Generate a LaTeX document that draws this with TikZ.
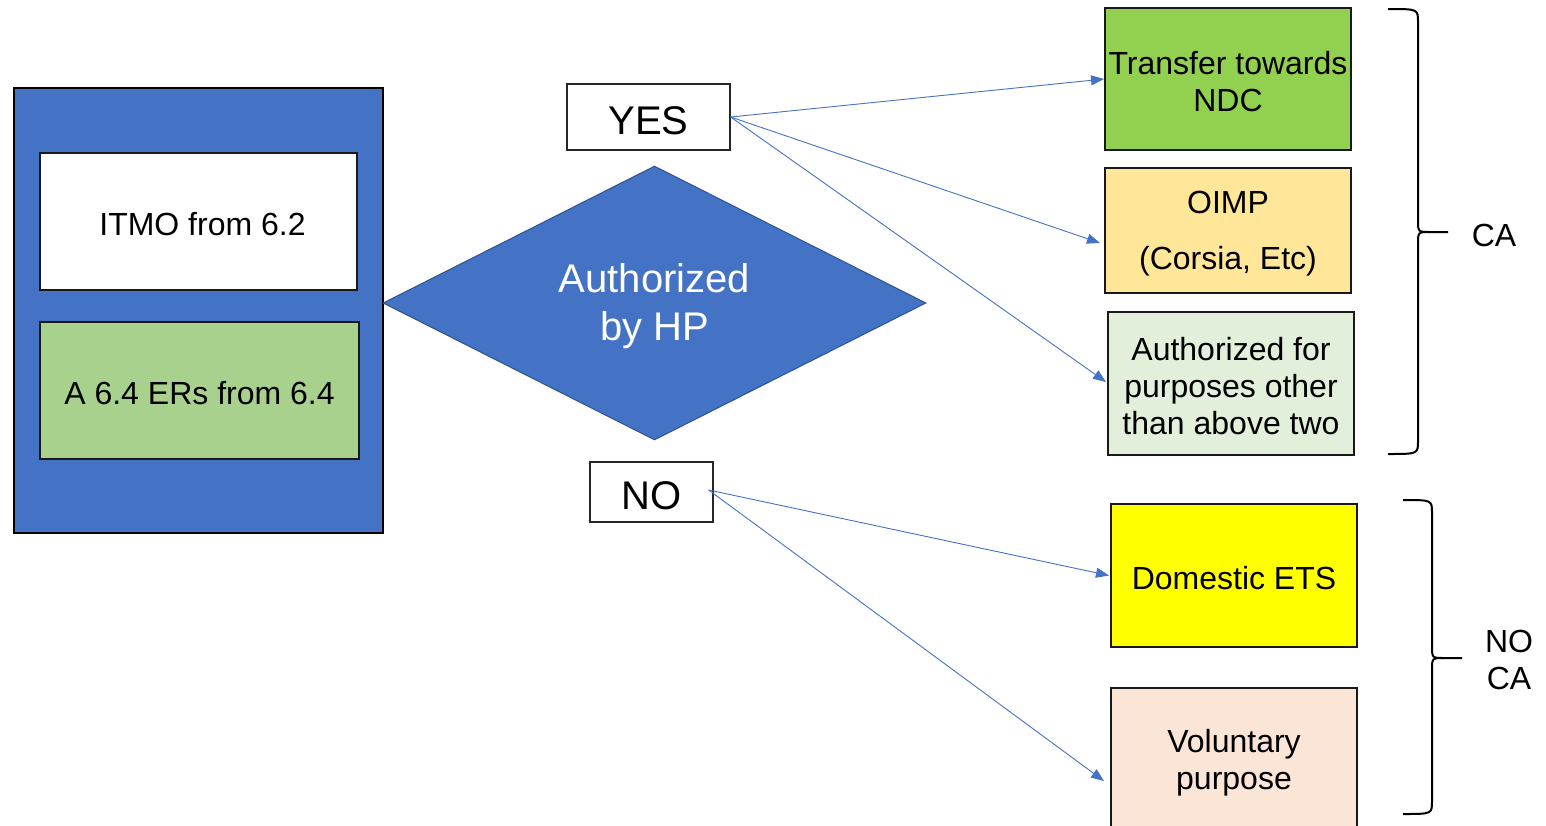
\documentclass[tikz,border=0pt]{standalone}
\usepackage{fontspec}
\setmainfont{Liberation Sans}
\usetikzlibrary{shapes.geometric,arrows.meta}
\definecolor{mblue}{HTML}{4472C4}
\definecolor{dblue}{HTML}{2F528F}
\definecolor{cgreen}{HTML}{92D050}
\definecolor{cyell}{HTML}{FFE699}
\definecolor{clgreen}{HTML}{E2EFDA}
\definecolor{cdom}{HTML}{FFFF00}
\definecolor{cvol}{HTML}{FBE5D6}
\definecolor{cer}{HTML}{A9D18E}
\tikzset{
  txt/.style={font=\fontsize{32}{37}\selectfont, text=black, align=center},
  boxt/.style={label={[txt,yshift=-3pt]center:#1}},
  box/.style={draw=black!90, line width=2pt, rectangle, inner sep=0pt,
              minimum width=246pt},
  lbl/.style={draw=black!85, line width=1.3pt, fill=white, inner sep=0pt},
  lblt/.style={label={[text=black,font=\fontsize{40}{46}\selectfont,yshift=-3.5pt]center:#1}},
  conn/.style={draw=mblue, line width=0.9pt, -{Triangle[length=13pt,width=10pt]}},
  brace/.style={draw=black, line width=2pt, line join=round}
}
\begin{document}
\begin{tikzpicture}[x=1pt,y=-1pt]
\useasboundingbox (0,0) rectangle (1546,825);
\fill[white] (0,0) rectangle (1546,825);
% left group
\node[draw=black, line width=2pt, fill=mblue, minimum width=369pt, minimum height=445pt, inner sep=0pt] (outer) at (198.5,310.5) {};
\node[box, fill=white, minimum width=317pt, minimum height=137pt, boxt={\hspace{8pt}ITMO from 6.2}] (itmo) at (198.5,221.5) {};
\node[box, fill=cer, minimum width=319pt, minimum height=137pt, boxt={A 6.4 ERs from 6.4}] (er) at (199.5,390.5) {};
% diamond
\node[diamond, fill=mblue, draw=dblue, line width=1pt, minimum width=543pt, minimum height=274pt, aspect=2, inner sep=0pt,
  label={[text=white, align=center, font=\fontsize{40}{48}\selectfont, yshift=-3.5pt]center:{Authorized\\by HP}}] (dec) at (654.5,303) {};
% yes / no
\node[lbl, minimum width=163pt, minimum height=66pt, lblt={YES}] (yes) at (648.5,117) {};
\node[lbl, minimum width=123pt, minimum height=60pt, lblt={NO}] (no) at (651.5,492) {};
% right boxes
\node[box, fill=cgreen, minimum height=142pt, boxt={{Transfer towards\\NDC}}] (tr) at (1228,79) {};
\node[box, fill=cyell, minimum height=125pt, boxt={{OIMP\\[19pt](Corsia, Etc)}}] (oimp) at (1228,230.5) {};
\node[box, fill=clgreen, minimum height=143pt, boxt={{Authorized for\\purposes other\\than above two}}] (auth) at (1231,383.5) {};
\node[box, fill=cdom, minimum height=143pt, boxt={Domestic ETS}] (dom) at (1234,575.5) {};
\node[box, fill=cvol, minimum height=143pt, boxt={{Voluntary\\purpose}}] (vol) at (1234,759.5) {};
% connectors
\draw[conn] (yes.east) -- (tr.west);
\draw[conn] (yes.east) -- ([xshift=-4pt,yshift=-12.5pt]oimp.west);
\draw[conn] (yes.east) -- ([xshift=-1pt,yshift=1.5pt]auth.west);
\draw[conn] ([xshift=-5pt,yshift=2pt]no.east) -- ([xshift=-1pt]dom.west);
\draw[conn] ([xshift=-5pt,yshift=2pt]no.east) -- ([xshift=-6pt,yshift=-21.5pt]vol.west);
% braces
\draw[brace] (1388,9) .. controls (1418,9) and (1418,9) .. (1418,22) -- (1418,220)
  .. controls (1418,232) and (1418,232) .. (1430,232) -- (1448,232);
\draw[brace] (1430,232) .. controls (1418,232) and (1418,232) .. (1418,244) -- (1418,441)
  .. controls (1418,454) and (1418,454) .. (1388,454);
\draw[brace] (1403,500) .. controls (1432,500) and (1432,500) .. (1432,513) -- (1432,646)
  .. controls (1432,658) and (1432,658) .. (1444,658) -- (1462,658);
\draw[brace] (1444,658) .. controls (1432,658) and (1432,658) .. (1432,670) -- (1432,801)
  .. controls (1432,814) and (1432,814) .. (1403,814);
\node[txt] (ca) at (1494,235) {CA};
\node[txt] (noca) at (1509,660) {NO\\CA};
\end{tikzpicture}
\end{document}
